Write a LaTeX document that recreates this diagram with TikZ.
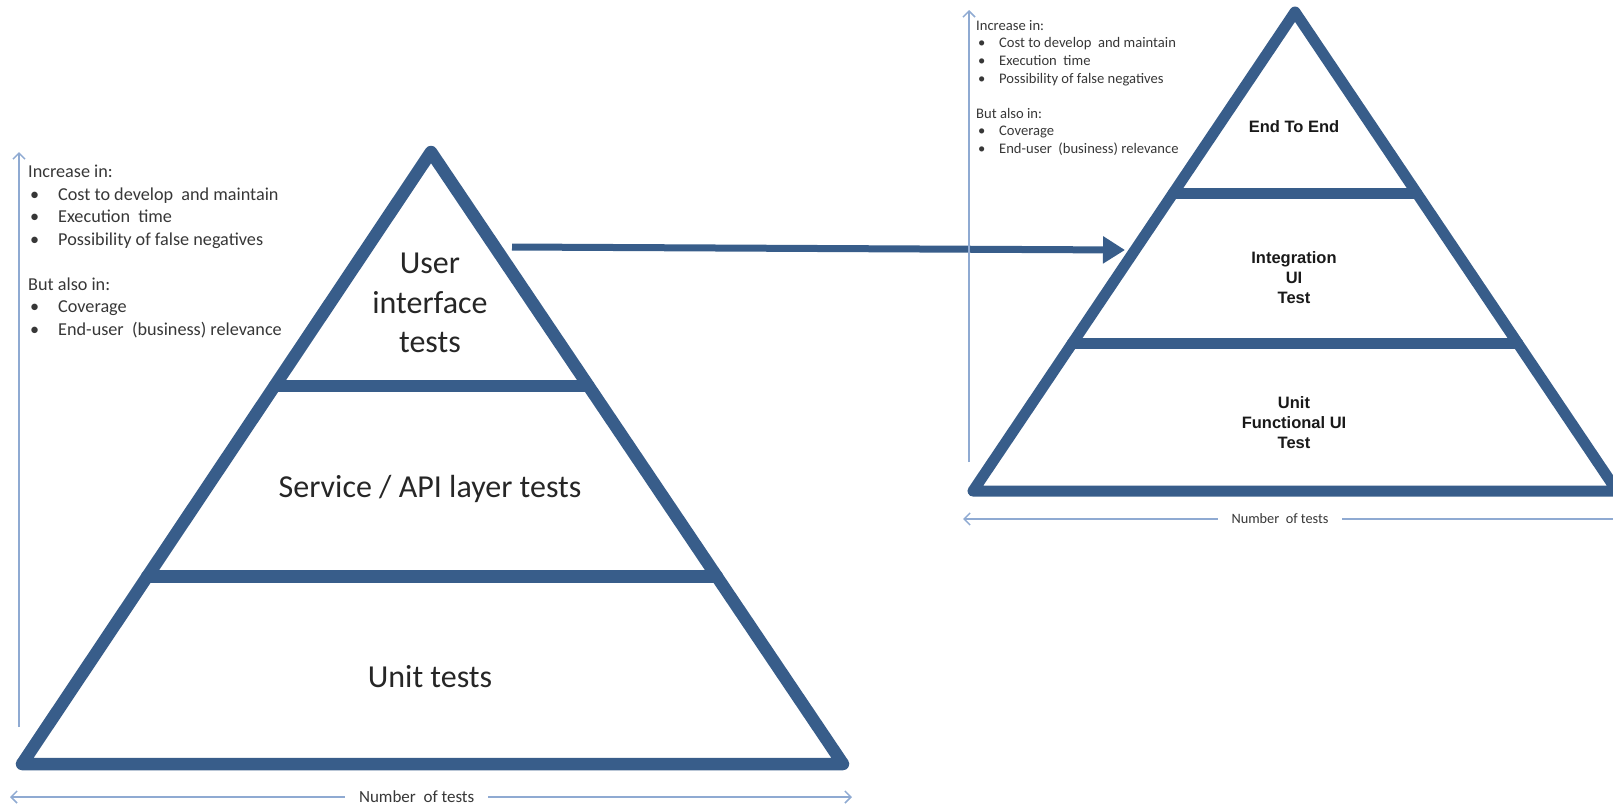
\documentclass[tikz,border=0pt]{standalone}
\usepackage{fontspec}
\setmainfont{Carlito}
\newfontfamily\labfont{Liberation Sans}
\usetikzlibrary{arrows.meta,calc}
\definecolor{pyrblue}{RGB}{56,93,138}
\definecolor{axisblue}{RGB}{143,170,210}
\definecolor{notegray}{RGB}{55,55,55}
\newcommand{\bitem}[2]{\makebox[#1][l]{\hspace{2pt}\textbullet}#2}
\tikzset{
  pyr/.style={draw=pyrblue,line width=12.5pt,line join=round,line cap=round},
  axisline/.style={draw=axisblue,line width=1.5pt},
  barb/.tip={Straight Barb[length=6pt,width=12pt]},
  layer/.style={text=black!85,font=\fontsize{32}{39.5}\selectfont,align=center},
  smalllayer/.style={text=black!90,font=\labfont\bfseries\fontsize{16.5}{20}\selectfont,align=center},
  note/.style={text=notegray,align=left,inner sep=0pt,anchor=north west},
  countlabel/.style={fill=white,text=notegray,inner xsep=14pt},
}
\begin{document}
\begin{tikzpicture}[x=1pt,y=-1pt]
  \useasboundingbox (0,0) rectangle (1613,806);
  % left pyramid
  \coordinate (ltop) at (431,152);
  \coordinate (lbl) at (22,764);
  \coordinate (lbr) at (843,764);
  \draw[pyr] (ltop) -- (lbl) -- (lbr) -- cycle;
  \draw[pyr] ($(ltop)!0.382!(lbl)$) -- ($(ltop)!0.382!(lbr)$);
  \draw[pyr] ($(ltop)!0.694!(lbl)$) -- ($(ltop)!0.694!(lbr)$);
  \node[layer] (ui) at (430,303) {User\\interface\\tests};
  \node[layer] (api) at (430,489) {Service / API layer tests};
  \node[layer] (unit) at (430,677) {Unit tests};
  % right pyramid
  \coordinate (rtop) at (1295,12);
  \coordinate (rbl) at (973,491);
  \coordinate (rbr) at (1617,491);
  \draw[pyr,line width=11pt] (rtop) -- (rbl) -- (rbr) -- cycle;
  \draw[pyr,line width=11pt] ($(rtop)!0.378!(rbl)$) -- ($(rtop)!0.378!(rbr)$);
  \draw[pyr,line width=11pt] ($(rtop)!0.693!(rbl)$) -- ($(rtop)!0.693!(rbr)$);
  \node[smalllayer] (e2e) at (1294,127) {End To End};
  \node[smalllayer] (integ) at (1294,278) {Integration\\UI\\Test};
  \node[smalllayer] (func) at (1294,423) {Unit\\Functional UI\\Test};
  % link
  \coordinate (uiout) at (512,247);
  \coordinate (e2ein) at (1125,250);
  \draw[draw=pyrblue,line width=7pt,-{Triangle[length=22pt,width=26pt]}] (uiout) -- (e2ein);
  % axes
  \coordinate (lyb) at (19,727);
  \coordinate (lyt) at (19,152);
  \draw[axisline,-barb] (lyb) -- (lyt);
  \coordinate (lxl) at (10,797);
  \coordinate (lxr) at (852,797);
  \draw[axisline,barb-barb] (lxl) -- (lxr)
    node[pos=0.483,countlabel,font=\fontsize{17}{19}\selectfont] (lcount) {Number\ \ of tests};
  \coordinate (ryb) at (969,462);
  \coordinate (ryt) at (969,10);
  \draw[axisline,-barb] (ryb) -- (ryt);
  \coordinate (rxl) at (963,519);
  \coordinate (rxr) at (1620,519);
  \draw[axisline,barb-] (rxl) -- (rxr)
    node[pos=0.4825,countlabel,font=\fontsize{14.3}{16}\selectfont] (rcount) {Number\ \ of tests};
  % notes
  \node[note,font=\fontsize{18.2}{22.5}\selectfont] (lnote) at (28,165)
    {Increase in:\\
     \bitem{30pt}{Cost to develop\ \ and maintain}\\
     \bitem{30pt}{Execution\ \ time}\\
     \bitem{30pt}{Possibility of false negatives}\\[22.5pt]
     But also in:\\
     \bitem{30pt}{Coverage}\\
     \bitem{30pt}{End-user\ \ (business) relevance}};
  \node[note,font=\fontsize{14.6}{17.6}\selectfont] (rnote) at (976,20)
    {Increase in:\\
     \bitem{23pt}{Cost to develop\ \ and maintain}\\
     \bitem{23pt}{Execution\ \ time}\\
     \bitem{23pt}{Possibility of false negatives}\\[17.6pt]
     But also in:\\
     \bitem{23pt}{Coverage}\\
     \bitem{23pt}{End-user\ \ (business) relevance}};
\end{tikzpicture}
\end{document}
